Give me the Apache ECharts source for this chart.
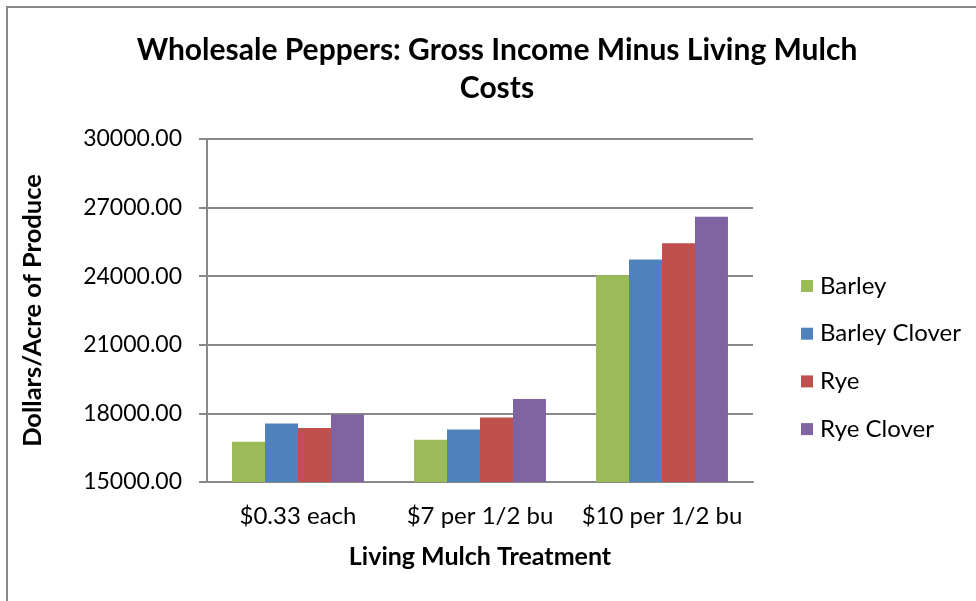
<!DOCTYPE html>
<html>
<head>
<meta charset="utf-8">
<script src="https://cdn.jsdelivr.net/npm/echarts@6/dist/echarts.min.js"></script>
<style>
html,body{margin:0;padding:0;background:#fff;}
#chart{width:976px;height:601px;}
</style>
</head>
<body>
<div id="chart"></div>
<script>
const categories = ['$0.33 each', '$7 per 1/2 bu', '$10 per 1/2 bu'];
const barley = [16760, 16850, 24040];
const barleyClover = [17555, 17300, 24730];
const rye = [17365, 17820, 25445];
const ryeClover = [17955, 18630, 26600];
const seriesNames = ['Barley', 'Barley Clover', 'Rye', 'Rye Clover'];
const colors = ['#9BBB59', '#4F81BD', '#C0504D', '#8064A2'];

const chart = echarts.init(document.getElementById('chart'));
const dataSets = [barley, barleyClover, rye, ryeClover];
const font = 'Lato, "Open Sans", sans-serif';

chart.setOption({
  animation: false,
  backgroundColor: '#fff',
  title: {
    text: 'Wholesale Peppers: Gross Income Minus Living Mulch\nCosts',
    left: 497,
    top: 31,
    textAlign: 'center',
    padding: 0,
    textStyle: { fontFamily: font, fontWeight: 'bold', fontSize: 30, lineHeight: 38, color: '#000' }
  },
  graphic: [{
    type: 'rect', silent: true,
    shape: { x: 7, y: 7, width: 1000, height: 700 },
    style: { fill: 'none', stroke: '#888', lineWidth: 2 }
  }],
  legend: {
    orient: 'vertical',
    left: 796,
    top: 269,
    itemWidth: 12,
    itemHeight: 12,
    itemGap: 23.7,
    icon: 'rect',
    data: seriesNames,
    textStyle: { fontFamily: font, fontSize: 24, lineHeight: 24, color: '#000', padding: [0, 0, 0, 2] }
  },
  grid: { left: 207, right: 223, top: 139, bottom: 119, containLabel: false },
  xAxis: {
    type: 'category',
    data: categories,
    name: 'Living Mulch Treatment',
    nameLocation: 'middle',
    nameGap: 62,
    nameTextStyle: { fontFamily: font, fontWeight: 'bold', fontSize: 25, color: '#000' },
    axisLine: { lineStyle: { color: '#888', width: 2 } },
    axisTick: { show: false },
    axisLabel: { interval: 0, fontFamily: font, fontSize: 24, color: '#000', margin: 22 }
  },
  yAxis: {
    type: 'value',
    min: 15000,
    max: 30000,
    interval: 3000,
    name: 'Dollars/Acre of Produce',
    nameLocation: 'middle',
    nameGap: 161,
    nameTextStyle: { fontFamily: font, fontWeight: 'bold', fontSize: 25.5, color: '#000' },
    axisLine: { show: true, lineStyle: { color: '#888', width: 2 } },
    axisTick: { show: true, length: 8, lineStyle: { color: '#888', width: 2 } },
    splitLine: { lineStyle: { color: '#888', width: 2 } },
    axisLabel: { fontFamily: font, fontSize: 23, color: '#000', margin: 25, formatter: v => v.toFixed(2) }
  },
  series: seriesNames.map((n, i) => ({
    name: n,
    type: 'bar',
    data: dataSets[i],
    barGap: '0%',
    barCategoryGap: '27.5%',
    itemStyle: { color: colors[i] }
  }))
});
</script>
</body>
</html>
